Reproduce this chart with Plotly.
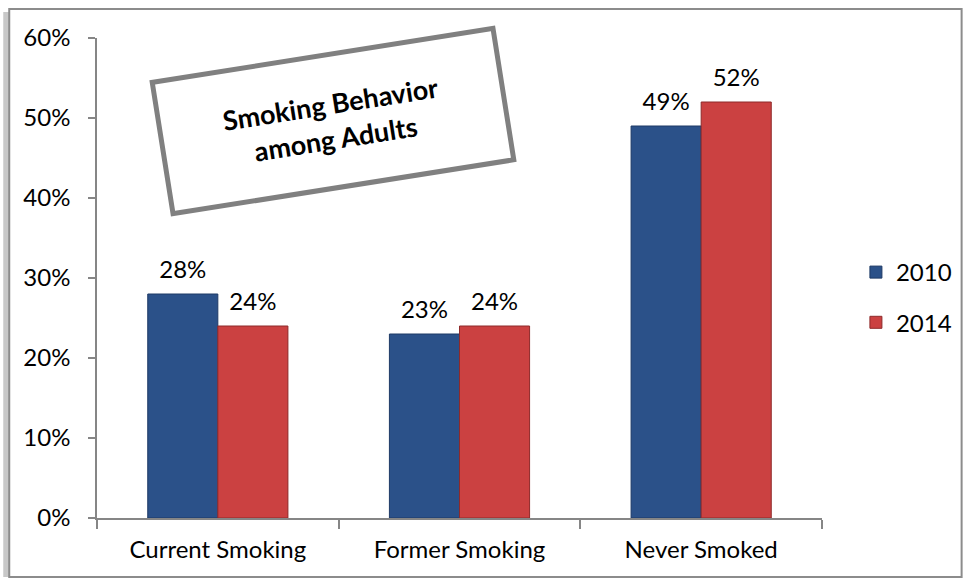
import plotly.graph_objects as go

categories = ["Current Smoking", "Former Smoking", "Never Smoked"]
series_names = ["2010", "2014"]
values_2010 = [28, 23, 49]
values_2014 = [24, 24, 52]
y_ticks = [0, 10, 20, 30, 40, 50, 60]
title_text = "Smoking Behavior<br>among Adults"

FONT = "Lato"
W, H = 969, 579
L, R, T, B = 97, 145, 38, 61
PW, PH = W - L - R, H - T - B

def px(x):
    return (x - L) / PW

def py(y):
    return (H - B - y) / PH

fig = go.Figure()
colors = {"2010": ("#2B5189", "#1E3A66"), "2014": ("#CB4141", "#8E2A2A")}
for name, vals in zip(series_names, [values_2010, values_2014]):
    fill, edge = colors[name]
    fig.add_trace(go.Bar(
        x=categories, y=vals, name=name, legendgroup=name,
        offsetgroup=name,
        marker=dict(color=fill, line=dict(color=edge, width=1)),
        hoverinfo="skip",
    ))
    # data labels, grouped with the bars
    fig.add_trace(go.Scatter(
        x=categories, y=vals, mode="markers+text", offsetgroup=name,
        text=[f"{v}%" for v in vals], textposition="top center",
        textfont=dict(family=FONT, size=24, color="#000000"),
        marker=dict(size=14, opacity=0), showlegend=False, cliponaxis=False,
        hoverinfo="skip",
    ))

fig.update_layout(
    width=W, height=H,
    margin=dict(l=L, r=R, t=T, b=B, pad=0),
    paper_bgcolor="white", plot_bgcolor="white",
    font=dict(family=FONT, size=24, color="#000000"),
    barmode="group", bargap=0.42, bargroupgap=0,
    scattermode="group", scattergap=0.42,
    showlegend=True,
    legend=dict(x=px(858), y=py(250), xanchor="left", yanchor="top",
                font=dict(family=FONT, size=24), tracegroupgap=16,
                bgcolor="rgba(0,0,0,0)"),
    xaxis=dict(showline=True, linecolor="#868686", linewidth=1.5,
               ticks="outside", ticklen=9, tickcolor="#868686", tickwidth=1.5,
               tickson="boundaries", showgrid=False, zeroline=False,
               ticklabelstandoff=9,
               tickfont=dict(family=FONT, size=24)),
    yaxis=dict(range=[0, 60], tickvals=y_ticks, ticktext=[f"{v}%" for v in y_ticks],
               showline=True, linecolor="#868686", linewidth=1.5,
               ticks="outside", ticklen=7, tickcolor="#868686", tickwidth=1.5,
               showgrid=False, zeroline=False, ticklabelstandoff=13,
               tickfont=dict(family=FONT, size=24)),
)

# outer chart border with left shadow
fig.add_shape(type="rect", xref="paper", yref="paper",
              x0=px(3), x1=px(9), y0=py(577), y1=py(12),
              line=dict(width=0), fillcolor="#C8C8C8", layer="below")
fig.add_shape(type="rect", xref="paper", yref="paper",
              x0=px(9), x1=px(964), y0=py(577), y1=py(9),
              line=dict(color="#8C8C8C", width=2), fillcolor="rgba(0,0,0,0)")

# rotated title box
fig.add_annotation(xref="paper", yref="paper", x=px(334), y=py(121),
                   xanchor="center", yanchor="middle", showarrow=False,
                   text=title_text, textangle=-9,
                   font=dict(family=FONT, size=27, color="#000000", weight="bold"),
                   width=336, height=124, bgcolor="white",
                   bordercolor="#808080", borderwidth=5, borderpad=2)

fig.write_html("out.html", config={"displayModeBar": False},
               post_script="document.body.style.margin='0';")
